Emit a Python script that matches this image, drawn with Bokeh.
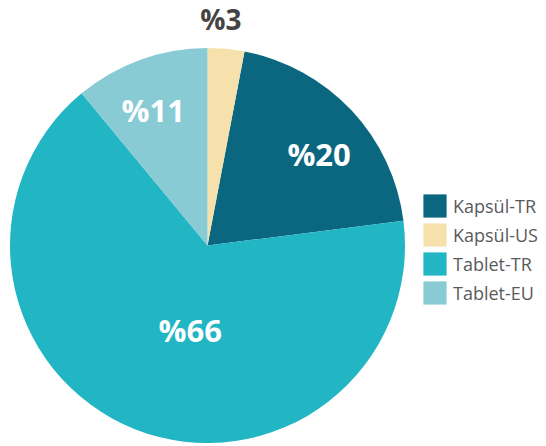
import numpy as np
from bokeh.plotting import figure
from bokeh.models import ColumnDataSource, Range1d
from bokeh.core.properties import value
from bokeh.embed import file_html
from bokeh.resources import INLINE

# Data (legend order)
categories = ["Kapsül-TR", "Kapsül-US", "Tablet-TR", "Tablet-EU"]
shares = [20, 3, 66, 11]
labels = ["%20", "%3", "%66", "%11"]
colors = ["#0b6780", "#f6e1ad", "#22b5c3", "#88cbd4"]
# clockwise drawing order from 12 o'clock
draw_order = ["Kapsül-US", "Kapsül-TR", "Tablet-TR", "Tablet-EU"]

# styles for labels
label_r = [144, 227, 86, 146]
label_dang = [4, -2, -10, -2]  # degrees tweak
label_colors = ["white", "#444444", "white", "white"]
label_sizes = ["31px", "28px", "31px", "31px"]

W, H = 546, 446
cx, cy, R = 207, 201, 197.5

total = float(sum(shares))
start_cw = {}
acc = 0.0
for c in draw_order:
    s = shares[categories.index(c)]
    start_cw[c] = acc
    acc += s / total * 360.0

starts, ends, lx, ly = [], [], [], []
for i, c in enumerate(categories):
    a0 = start_cw[c]
    a1 = a0 + shares[i] / total * 360.0
    starts.append(np.radians(90 - a0))
    ends.append(np.radians(90 - a1))
    mid = np.radians((a0 + a1) / 2 + label_dang[i])
    lx.append(cx + label_r[i] * np.sin(mid))
    ly.append(cy + label_r[i] * np.cos(mid))

src = ColumnDataSource(dict(category=categories, start=starts, end=ends,
                            color=colors, label=labels, lx=lx, ly=ly,
                            lcolor=label_colors, lsize=label_sizes))

p = figure(width=W, height=H, output_backend="svg", toolbar_location=None,
           x_range=Range1d(0, W), y_range=Range1d(0, H), min_border=0)
p.axis.visible = False
p.grid.visible = False
p.outline_line_color = None
p.background_fill_color = "white"

p.wedge(x=cx, y=cy, radius=R, start_angle="start", end_angle="end",
        direction="clock", fill_color="color", line_color=None,
        legend_field="category", source=src)

p.text(x="lx", y="ly", text="label", source=src, text_align="center",
       text_baseline="middle", text_font=value("Open Sans"),
       text_font_style="bold", text_font_size="lsize", text_color="lcolor")

lg = p.legend[0]
lg.location = (420, 139)
lg.glyph_width = 29
lg.glyph_height = 29
lg.spacing = 0
lg.padding = 0
lg.margin = 0
lg.label_standoff = 4
lg.border_line_color = None
lg.background_fill_alpha = 0
lg.label_text_font = "Open Sans"
lg.label_text_font_size = "18px"
lg.label_text_color = "#5a5a5a"

open("out.html", "w").write(file_html(p, INLINE))
